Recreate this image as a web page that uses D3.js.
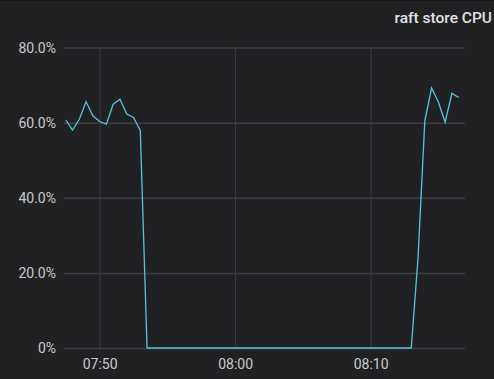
<!DOCTYPE html>
<html>
<head>
<meta charset="utf-8">
<script src="https://cdn.jsdelivr.net/npm/d3@7"></script>
<style>
  html, body { margin: 0; padding: 0; background: #212124; }
  svg { display: block; }
</style>
</head>
<body>
<svg id="chart" width="494" height="379"></svg>
<script>
// ---- data ----
const title = "raft store CPU";
const times = [
  "07:47:30","07:48:00","07:48:30","07:49:00","07:49:30","07:50:00","07:50:30","07:51:00","07:51:30","07:52:00","07:52:30","07:53:00",
  "07:53:30","08:13:00",
  "08:13:30","08:14:00","08:14:30","08:15:00","08:15:30","08:16:00","08:16:30"
];
const cpuValues = [
  60.7, 58.0, 60.9, 65.6, 61.8, 60.3, 59.6, 64.9, 66.2, 62.3, 61.4, 57.9,
  0, 0,
  24.0, 60.4, 69.2, 65.5, 60.1, 67.8, 66.7
];
const yTicks = [0, 20, 40, 60, 80];
const xTicks = ["07:50", "08:00", "08:10"];
const xDomain = ["07:47:20", "08:16:58"];
const yDomain = [0, 80];

// ---- helpers ----
const parseT = s => {
  const p = s.split(":").map(Number);
  return new Date(2020, 0, 1, p[0], p[1], p[2] || 0);
};
const data = times.map((t, i) => ({ t: parseT(t), v: cpuValues[i] }));

const svg = d3.select("#chart");
const W = 494, H = 379;
const mLeft = 63.5, mRight = 465, mTop = 47.5, mBottom = 348;

svg.append("rect").attr("width", W).attr("height", H).attr("fill", "#212124");
svg.append("rect").attr("width", W).attr("height", 1).attr("fill", "#161617");

const x = d3.scaleTime().domain(xDomain.map(parseT)).range([mLeft, mRight]);
const y = d3.scaleLinear().domain(yDomain).range([mBottom, mTop]);

// title
svg.append("text")
  .attr("x", 492).attr("y", 23)
  .attr("text-anchor", "end")
  .attr("fill", "#e2e2e4")
  .attr("font-family", "Roboto, 'Noto Sans', sans-serif")
  .attr("font-size", 15.5)
  .attr("font-weight", 500)
  .text(title);

const gridColor = "#3d3d40";

// horizontal grid
const yAxis = d3.axisLeft(y)
  .tickValues(yTicks)
  .tickSize(-(mRight - mLeft))
  .tickPadding(8)
  .tickFormat(d => d === 0 ? "0%" : d3.format(".1f")(d) + "%");
const gy = svg.append("g").attr("transform", `translate(${mLeft},0)`).call(yAxis);
gy.select(".domain").remove();
gy.selectAll(".tick line").attr("stroke", gridColor).attr("stroke-width", 1.5);
gy.selectAll(".tick text")
  .attr("fill", "#cacacd")
  .attr("font-family", "Roboto, 'Noto Sans', sans-serif")
  .attr("font-size", 14)
  .attr("x", -7.5)
  .attr("dy", "0.35em");

// vertical grid
const xAxis = d3.axisBottom(x)
  .tickValues(xTicks.map(parseT))
  .tickSize(-(mBottom - mTop))
  .tickPadding(10)
  .tickFormat(d3.timeFormat("%H:%M"));
const gx = svg.append("g").attr("transform", `translate(0,${mBottom})`).call(xAxis);
gx.select(".domain").remove();
gx.selectAll(".tick line").attr("stroke", gridColor).attr("stroke-width", 1);
gx.selectAll(".tick text")
  .attr("fill", "#cacacd")
  .attr("font-family", "Roboto, 'Noto Sans', sans-serif")
  .attr("font-size", 14)
  .attr("y", 11)
  .attr("dy", "0.71em");

// line
const line = d3.line().x(d => x(d.t)).y(d => y(d.v));
svg.append("path")
  .datum(data)
  .attr("d", line)
  .attr("fill", "none")
  .attr("stroke", "#56c6da")
  .attr("stroke-width", 1.3)
  .attr("stroke-linejoin", "miter");
</script>
</body>
</html>
